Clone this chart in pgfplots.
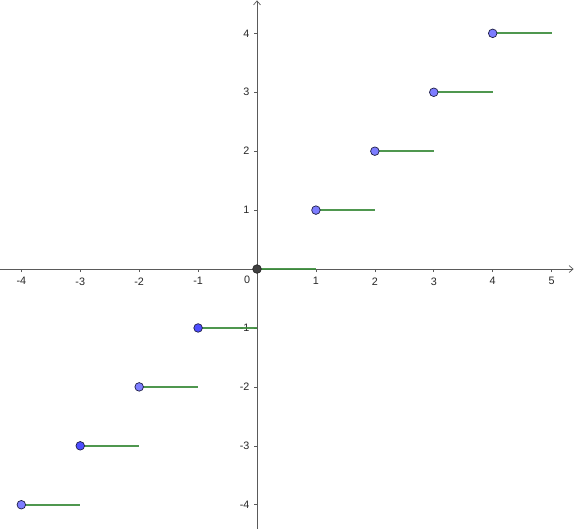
\documentclass[border=0pt]{standalone}
\usepackage{pgfplots}
\pgfplotsset{compat=1.18}
\usepackage{fontspec}
\setmainfont{Liberation Sans}
\usetikzlibrary{arrows.meta}
\definecolor{segc}{RGB}{60,140,60}
\definecolor{ptlight}{RGB}{125,125,255}
\definecolor{ptdark}{RGB}{77,77,255}
\definecolor{ptedge}{RGB}{30,30,70}
\definecolor{axc}{RGB}{90,90,90}
\begin{document}
\begin{tikzpicture}
\begin{axis}[
  scale only axis, width=574pt, height=529pt,
  xmin=-4.356, xmax=5.373, ymin=-4.407, ymax=4.559,
  axis lines=middle,
  axis line style={axc, line width=0.7pt, -{Straight Barb[length=4pt,width=7pt]}},
  xtick={-4,-3,-2,-1,1,2,3,4,5},
  ytick={-4,-3,-2,-1,1,2,3,4},
  tick align=outside,
  major tick length=3pt,
  tick style={axc, line width=0.6pt},
  tick label style={font=\fontsize{10.8}{12}\selectfont, text=black!85},
  /pgf/number format/assume math mode=true,
  xticklabel style={yshift=-2pt},
  yticklabel style={xshift=-1pt},
  clip=false,
]
\addplot[segc, line width=1.8pt, opacity=0.9] coordinates {
 (-4,-4) (-3,-4)};
\addplot[segc, line width=1.8pt, opacity=0.9] coordinates {
 (-3,-3) (-2,-3)};
\addplot[segc, line width=1.8pt, opacity=0.9] coordinates {
 (-2,-2) (-1,-2)};
\addplot[segc, line width=1.8pt, opacity=0.9] coordinates {
 (-1,-1) (0,-1)};
\addplot[segc, line width=1.8pt, opacity=0.9] coordinates {
 (0,0) (1,0)};
\addplot[segc, line width=1.8pt, opacity=0.9] coordinates {
 (1,1) (2,1)};
\addplot[segc, line width=1.8pt, opacity=0.9] coordinates {
 (2,2) (3,2)};
\addplot[segc, line width=1.8pt, opacity=0.9] coordinates {
 (3,3) (4,3)};
\addplot[segc, line width=1.8pt, opacity=0.9] coordinates {
 (4,4) (5,4)};
\addplot[only marks, mark=*, mark size=4.3pt, mark options={fill=ptlight, draw=ptedge, line width=0.7pt}]
 coordinates {(-4,-4) (-2,-2) (1,1) (2,2) (3,3) (4,4)};
\addplot[only marks, mark=*, mark size=4.3pt, mark options={fill=ptdark, draw=ptedge, line width=0.7pt}]
 coordinates {(-3,-3) (-1,-1)};
\addplot[only marks, mark=*, mark size=4.3pt, mark options={fill=black!75, draw=black!85, line width=0.7pt}]
 coordinates {(0,0)};
\node[anchor=north east, font=\fontsize{10.8}{12}\selectfont, text=black!85, inner sep=2pt] at (axis cs:-0.08,-0.08) {0};
\end{axis}
\end{tikzpicture}
\end{document}
